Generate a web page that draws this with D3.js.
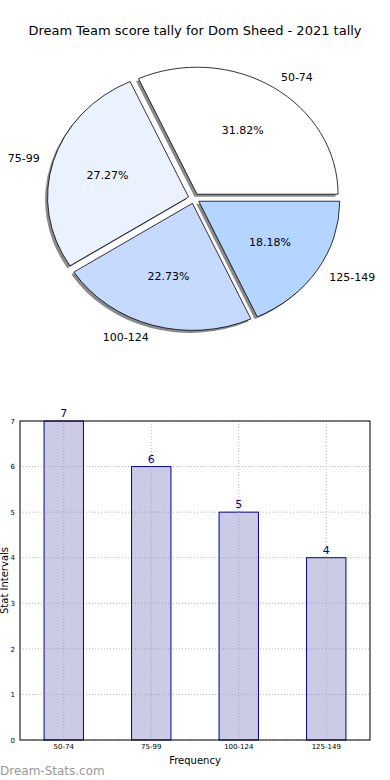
<!DOCTYPE html>
<html lang="en">
<head>
<meta charset="UTF-8">
<script src="https://cdn.jsdelivr.net/npm/d3@7/dist/d3.min.js"></script>
<title>Dream Team score tally</title>
<style>
  body { margin: 0; background: #fff; }
  text { font-family: "DejaVu Sans", sans-serif; }
</style>
</head>
<body>
<script>
var categories = ["50-74", "75-99", "100-124", "125-149"];
var counts = [7, 6, 5, 4];
var pieColors = ["#ffffff", "#eaf1ff", "#c6d9ff", "#b3d5ff"];
var yTicks = [0, 1, 2, 3, 4, 5, 6, 7];

var width = 390, height = 780;
var svg = d3.select("body").append("svg").attr("width", width).attr("height", height);

// title
svg.append("text").attr("x", 195).attr("y", 35).attr("text-anchor", "middle")
  .style("font-size", "13px").text("Dream Team score tally for Dom Sheed - 2021 tally");

// ---- pie (matplotlib style: start at 3 o'clock, counter-clockwise, stretched into an ellipse)
var cx = 194, cy = 198.5, rx = 141, ry = 127, explode = 0.04;
var total = d3.sum(counts);
var pie = d3.pie().sort(null).value(function (d) { return d; })
  .startAngle(Math.PI / 2).endAngle(Math.PI / 2 - 2 * Math.PI);
var arcs = pie(counts);
var arc = d3.arc().innerRadius(0).outerRadius(1);

function slice(a) {
  var mid = (a.startAngle + a.endAngle) / 2;
  var ux = Math.sin(mid), uy = -Math.cos(mid);
  return {
    ux: ux, uy: uy,
    ox: cx + explode * rx * ux, oy: cy + explode * ry * uy,
    path: arc({ startAngle: Math.min(a.startAngle, a.endAngle), endAngle: Math.max(a.startAngle, a.endAngle) })
  };
}

var pieG = svg.append("g");
arcs.forEach(function (a) {
  var s = slice(a);
  pieG.append("path").attr("d", s.path)
    .attr("transform", "translate(" + (s.ox - 2.5) + "," + (s.oy + 2.5) + ") scale(" + rx + "," + ry + ")")
    .attr("fill", "#8a8a8a");
});
arcs.forEach(function (a, i) {
  var s = slice(a);
  pieG.append("path").attr("d", s.path)
    .attr("transform", "translate(" + s.ox + "," + s.oy + ") scale(" + rx + "," + ry + ")")
    .attr("fill", pieColors[i]).attr("stroke", "#000")
    .attr("stroke-width", 0.8).attr("vector-effect", "non-scaling-stroke");

  pieG.append("text").attr("x", s.ox + 0.6 * rx * s.ux).attr("y", s.oy + 0.6 * ry * s.uy)
    .attr("text-anchor", "middle").attr("dy", "0.35em").style("font-size", "11px")
    .text((counts[i] / total * 100).toFixed(2) + "%");

  pieG.append("text").attr("x", s.ox + 1.1 * rx * s.ux).attr("y", s.oy + 1.1 * ry * s.uy)
    .attr("text-anchor", s.ux > 0 ? "start" : "end").attr("dy", "0.35em").style("font-size", "11px")
    .text(categories[i]);
});

// ---- bar chart
var plotL = 20, plotR = 370, plotT = 421, plotB = 740;
var x = d3.scaleBand().domain(categories).range([plotL, plotR]).paddingInner(0.55).paddingOuter(0.275);
var y = d3.scaleLinear().domain([0, 7]).range([plotB, plotT]);

var grid = svg.append("g").attr("stroke", "#b8b8b8").attr("stroke-dasharray", "1,2").attr("stroke-width", 1);
yTicks.forEach(function (t) {
  grid.append("line").attr("x1", plotL).attr("x2", plotR).attr("y1", y(t)).attr("y2", y(t));
});
categories.forEach(function (c) {
  grid.append("line").attr("x1", x(c) + x.bandwidth() / 2).attr("x2", x(c) + x.bandwidth() / 2)
    .attr("y1", plotT).attr("y2", plotB);
});

svg.selectAll("rect.bar").data(counts).enter().append("rect").attr("class", "bar")
  .attr("x", function (d, i) { return x(categories[i]); })
  .attr("y", function (d) { return y(d); })
  .attr("width", x.bandwidth())
  .attr("height", function (d) { return y(0) - y(d); })
  .attr("fill", "#cbcbe5")
  .attr("stroke", "#00008b").attr("stroke-width", 1);

// grid lines show through the bars
var grid2 = svg.append("g").attr("stroke", "#a0a0b8").attr("stroke-dasharray", "1,2").attr("stroke-width", 1);
categories.forEach(function (c, i) {
  grid2.append("line").attr("x1", x(c) + x.bandwidth() / 2).attr("x2", x(c) + x.bandwidth() / 2)
    .attr("y1", y(counts[i])).attr("y2", plotB);
  yTicks.forEach(function (t) {
    if (t > 0 && t < counts[i]) {
      grid2.append("line").attr("x1", x(c) + 0.5).attr("x2", x(c) + x.bandwidth() - 0.5).attr("y1", y(t)).attr("y2", y(t));
    }
  });
});

svg.selectAll("text.val").data(counts).enter().append("text").attr("class", "val")
  .attr("x", function (d, i) { return x(categories[i]) + x.bandwidth() / 2; })
  .attr("y", function (d) { return y(d) - 4; })
  .attr("text-anchor", "middle").attr("fill", "#00008b").style("font-size", "11px")
  .text(function (d) { return d; });

// frame
svg.append("rect").attr("x", plotL).attr("y", plotT).attr("width", plotR - plotL).attr("height", plotB - plotT)
  .attr("fill", "none").attr("stroke", "#000").attr("stroke-width", 1);

var yAxis = d3.axisLeft(y).tickValues(yTicks).tickFormat(d3.format("d")).tickSize(0).tickPadding(5);
svg.append("g").attr("transform", "translate(" + plotL + ",0)").call(yAxis)
  .call(function (g) { g.select(".domain").remove(); })
  .selectAll("text").style("font-size", "7px").style("font-family", "DejaVu Sans, sans-serif");

var xAxis = d3.axisBottom(x).tickSize(0).tickPadding(4);
svg.append("g").attr("transform", "translate(0," + plotB + ")").call(xAxis)
  .call(function (g) { g.select(".domain").remove(); })
  .selectAll("text").style("font-size", "7px").style("font-family", "DejaVu Sans, sans-serif");

svg.append("text").attr("x", (plotL + plotR) / 2).attr("y", 764).attr("text-anchor", "middle")
  .style("font-size", "10px").text("Frequency");
svg.append("text").attr("transform", "translate(4," + ((plotT + plotB) / 2) + ") rotate(-90)")
  .attr("text-anchor", "middle").attr("dy", "0.35em").style("font-size", "10px").text("Stat Intervals");

// watermark
svg.append("text").attr("x", 0).attr("y", 775).attr("fill", "#999999")
  .style("font-size", "12px").text("Dream-Stats.com");
</script>
</body>
</html>
